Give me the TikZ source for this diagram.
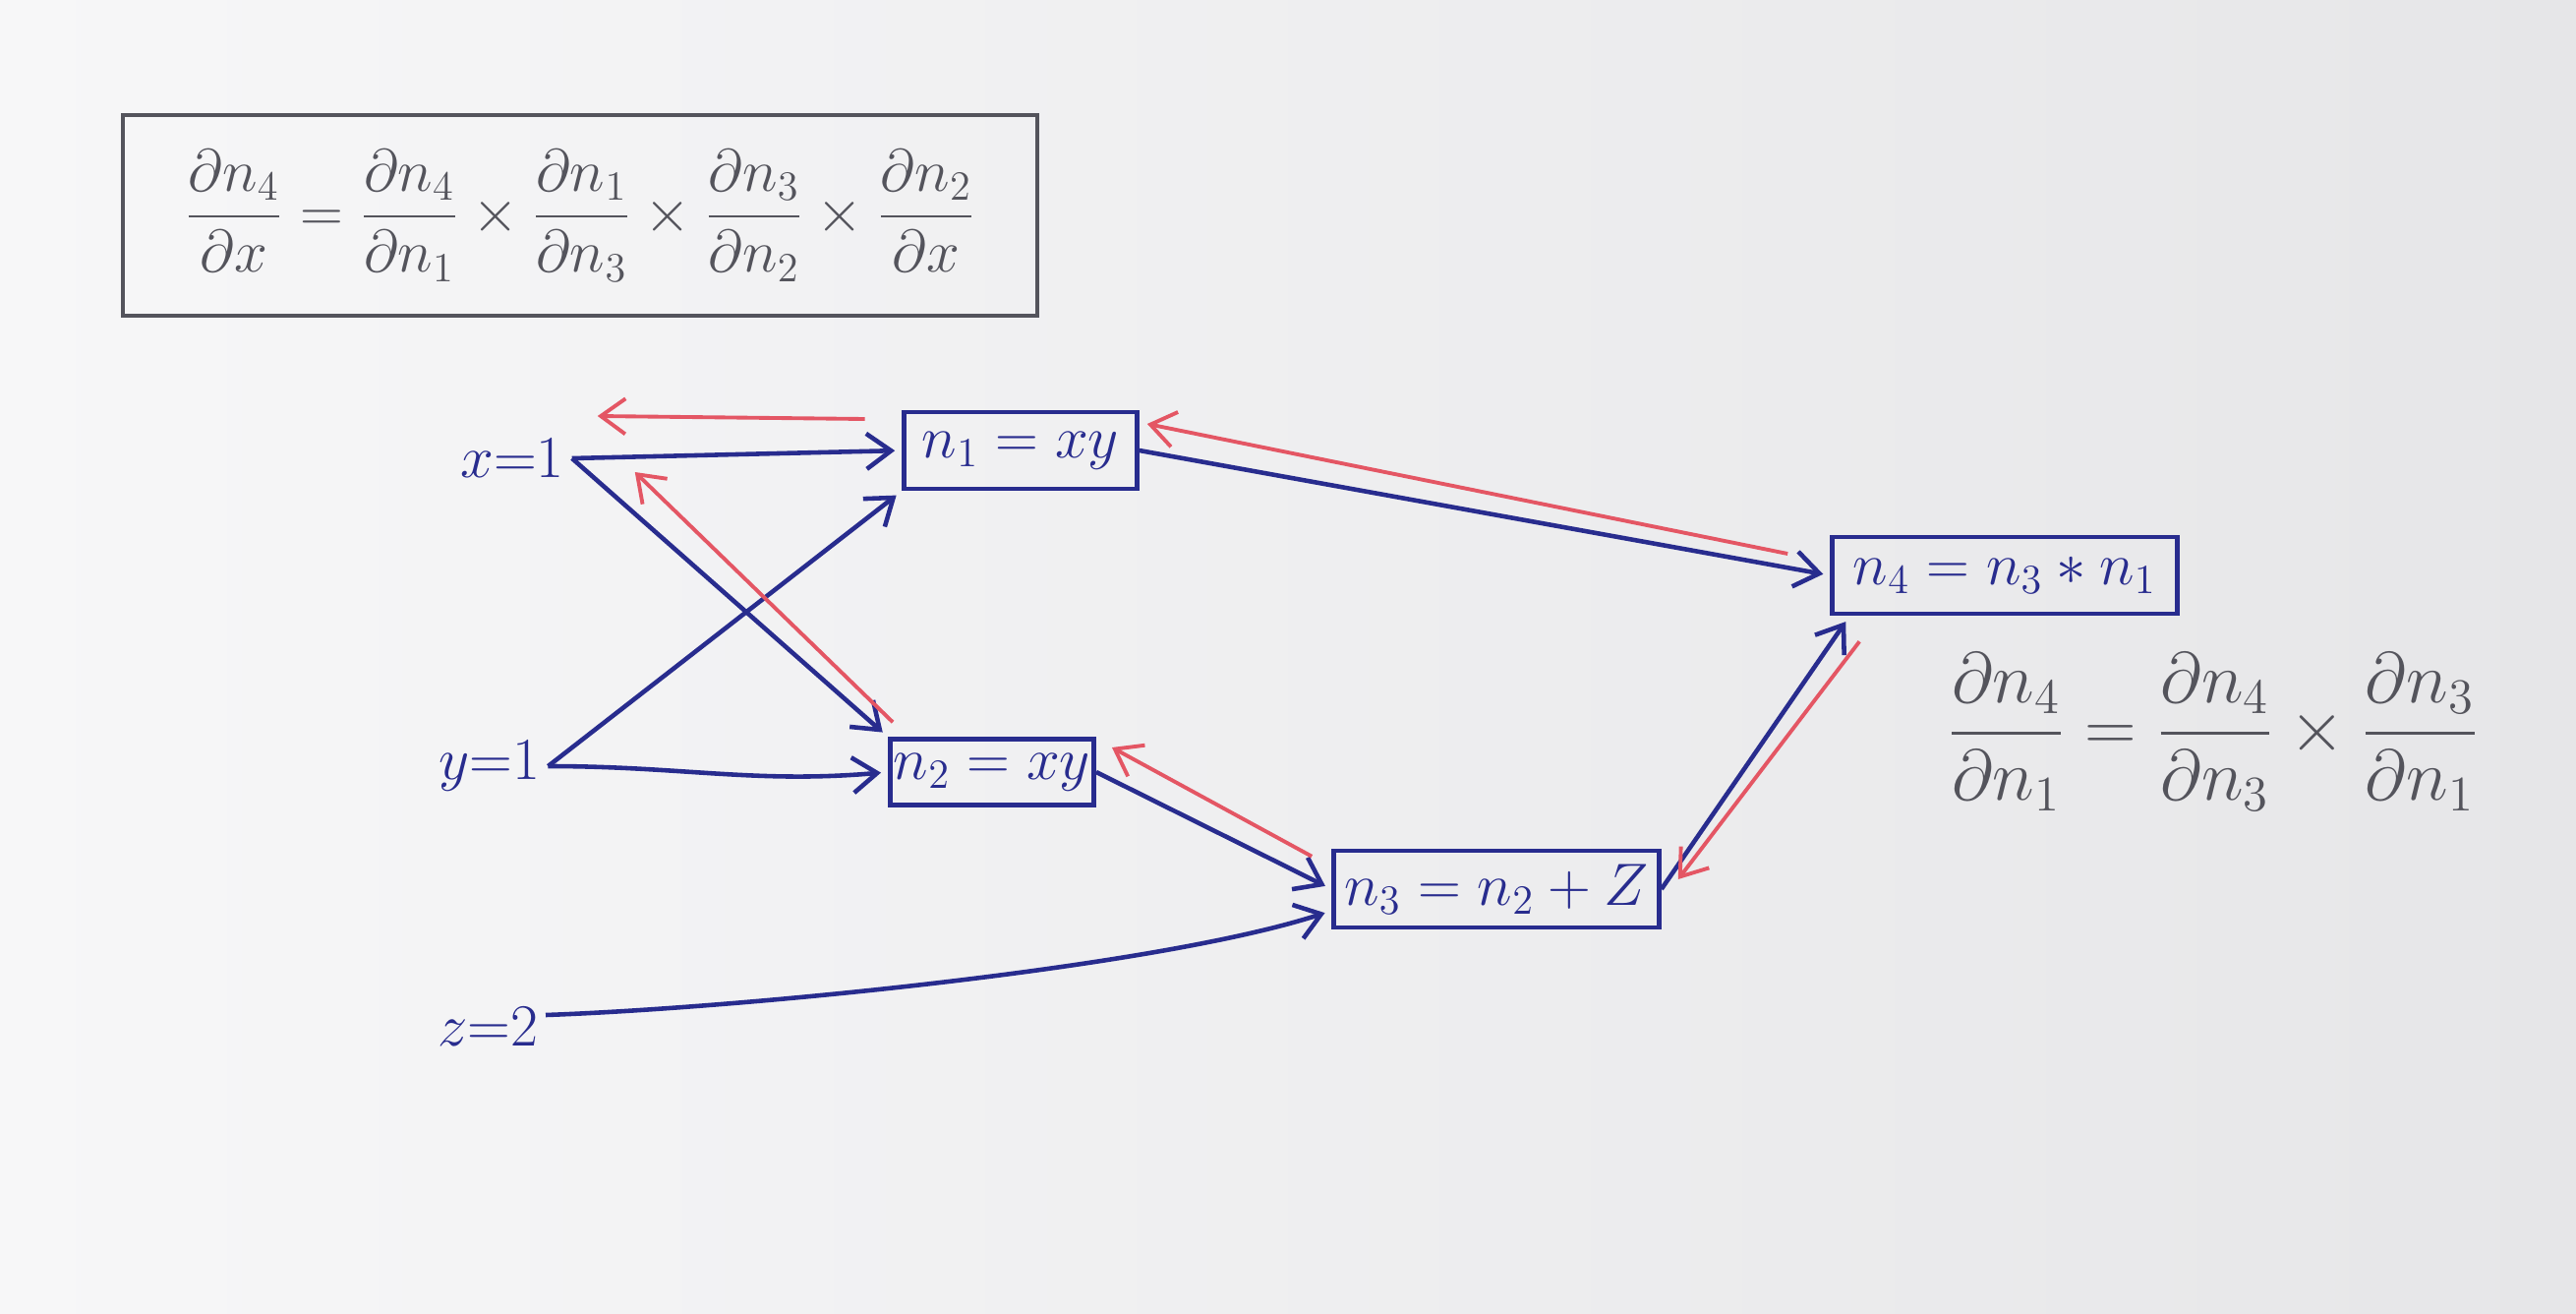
\documentclass[tikz,border=0pt]{standalone}
\usepackage{amsmath}
\usepackage{tikz}
\usetikzlibrary{arrows.meta}

\definecolor{inkblue}{RGB}{40,44,142}
\definecolor{inkred}{RGB}{228,86,100}
\definecolor{pencil}{RGB}{84,84,92}
\definecolor{paperL}{RGB}{247,247,248}
\definecolor{paperR}{RGB}{230,230,232}

\begin{document}
\begin{tikzpicture}[>={Straight Barb[length=2.5mm,width=3.6mm]},semithick]
  \tikzstyle{var}=[text=inkblue,font=\LARGE,inner sep=2pt]
  \tikzstyle{op}=[draw=inkblue,text=inkblue,line width=1.3pt,font=\LARGE,
                  minimum height=0.78cm,inner sep=3pt]
  \tikzstyle{fwd}=[draw=inkblue,line width=1.3pt,
                   every edge/.append style={->,shorten >=2pt}]
  \tikzstyle{back}=[draw=inkred,line width=1.1pt,
                    every edge/.append style={->}]
  \tikzstyle{note}=[text=pencil]

  % sheet of paper
  \shade[left color=paperL,right color=paperR] (0,0) rectangle (26.2,13.35);
  \useasboundingbox (0,0) rectangle (26.2,13.35);

  % chain rule, boxed
  \node[note,draw=pencil,line width=1.2pt,font=\LARGE,
        minimum width=9.3cm,minimum height=2.04cm] (chain) at (5.90,11.16)
    {$\dfrac{\partial n_4}{\partial x}=\dfrac{\partial n_4}{\partial n_1}\times
      \dfrac{\partial n_1}{\partial n_3}\times\dfrac{\partial n_3}{\partial n_2}\times
      \dfrac{\partial n_2}{\partial x}$};

  % inputs
  \node[var] (x) at (5.21,8.69) {$x{=}1$};
  \node[var] (y) at (4.98,5.56) {$y{=}1$};
  \node[var] (z) at (4.96,2.91) {$z{=}2$};

  % operations
  \node[op,minimum width=2.37cm]          (n1) at (10.38,8.77) {$n_1=xy$};
  \node[op,minimum height=0.67cm,inner xsep=1pt] (n2) at (10.09,5.50) {$n_2=xy$};
  \node[op,minimum width=3.31cm]          (n3) at (15.22,4.31) {$n_3=n_2+Z$};
  \node[op,minimum width=3.51cm]          (n4) at (20.39,7.50) {$n_4=n_3*n_1$};

  % local gradient
  \node[note,font=\huge] (local) at (22.51,5.91)
    {$\dfrac{\partial n_4}{\partial n_1}=\dfrac{\partial n_4}{\partial n_3}\times
      \dfrac{\partial n_3}{\partial n_1}$};

  % forward pass
  \path[fwd] (x.east)  edge (n1.west)
                       edge (n2.north west)
             (y.east)  edge (n1.south west)
                       edge [out=0,in=185] (n2.west)
             ([yshift=0.12cm]z.east) edge [out=2,in=198,looseness=0.6] ([yshift=-0.22cm]n3.west)
             (n1.east) edge (n4.west)
             (n2.east) edge (n3.west)
             (n3.east) edge ([xshift=0.2cm]n4.south west);

  % backward pass
  \path[back] ([shift={(-0.375,0.32)}]n1.west)     edge ([shift={(0.26,0.43)}]x.east)
              ([shift={(0.05,0.15)}]n2.north west) edge ([shift={(0.64,-0.14)}]x.east)
              ([shift={(-0.43,0.22)}]n4.west)      edge ([shift={(0.08,0.27)}]n1.east)
              ([shift={(-0.2,-0.08)}]n3.north west) edge ([shift={(0.16,0.25)}]n2.east)
              ([shift={(0.3,-0.26)}]n4.south west) edge ([shift={(0.17,0.1)}]n3.east);
\end{tikzpicture}
\end{document}
